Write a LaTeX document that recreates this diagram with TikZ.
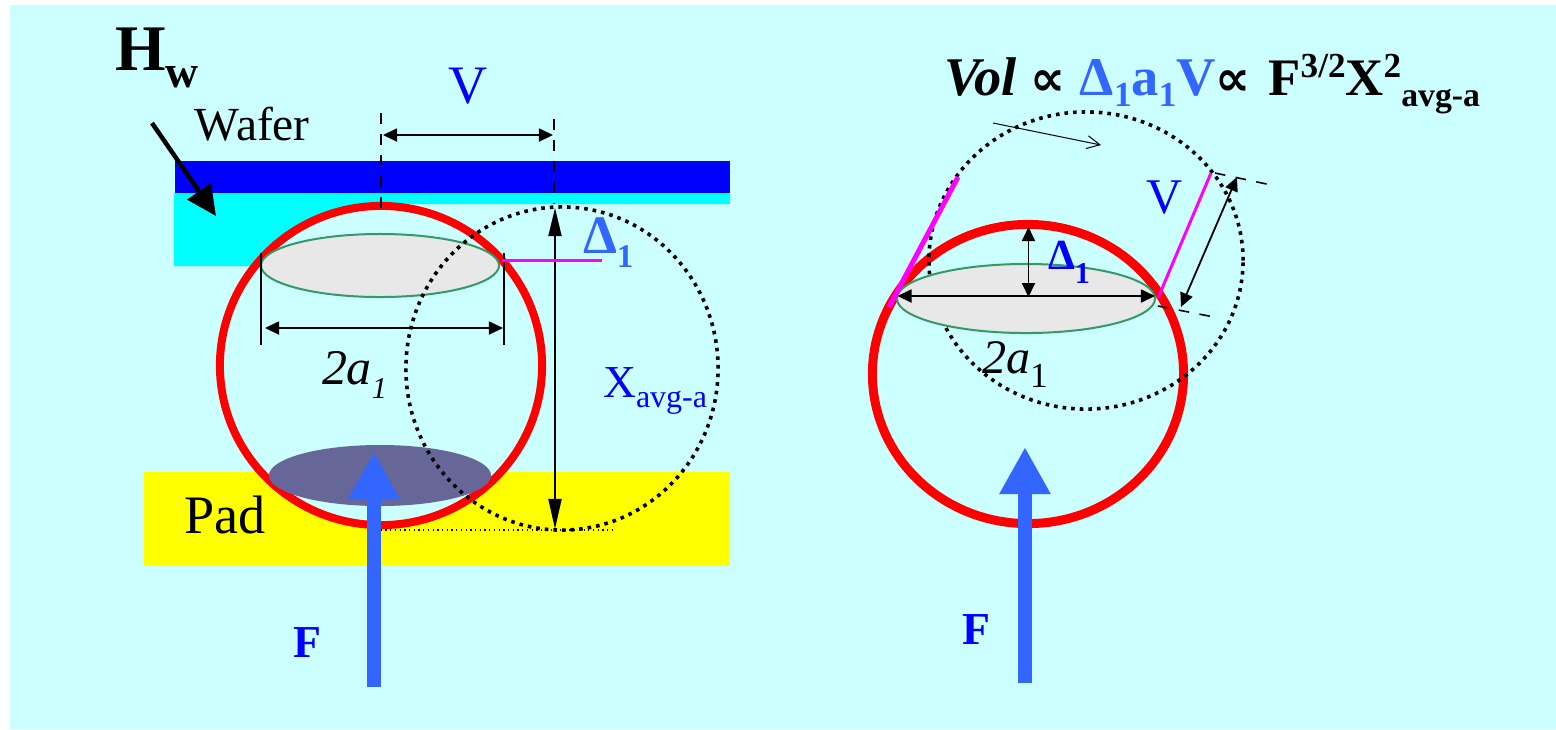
\documentclass[tikz,border=0pt]{standalone}
\usepackage{fontspec}
\setmainfont{Liberation Serif}
\newfontfamily\symfont{DejaVu Sans}
\usetikzlibrary{arrows.meta}
\definecolor{skybg}{HTML}{CCFFFF}
\definecolor{waferglow}{HTML}{00FFFF}
\definecolor{padyellow}{HTML}{FFFF00}
\definecolor{markpink}{HTML}{FF00FF}
\definecolor{forceblue}{HTML}{3366FF}
\definecolor{contactgreen}{HTML}{339966}
\definecolor{padgray}{HTML}{666699}
\newcommand{\sz}[1]{\fontsize{#1}{#1}\selectfont}
\newcommand{\lowtxt}[3]{\raisebox{-#1pt}{\sz{#2}#3}}
\tikzset{
    txt/.style={anchor=base west, inner sep=0pt, outer sep=0pt},
    ballline/.style={red, line width=0.08cm},
    pathline/.style={black, line width=0.036cm, dash pattern=on 0.036cm off 0.05cm},
    contact/.style={draw=contactgreen, fill=black!9, line width=0.02cm},
    dimline/.style={black, line width=0.018cm, {Triangle[length=0.14cm,width=0.13cm]}-{Triangle[length=0.14cm,width=0.13cm]}},
    guide/.style={black, line width=0.016cm, dashed},
    force/.style={forceblue, line width=0.13cm, -{Triangle[length=0.47cm,width=0.48cm]}},
    markline/.style={markpink, line width=0.03cm}
}
\begin{document}
\begin{tikzpicture}[x=0.01cm, y=-0.01cm]
    \useasboundingbox (0,0) rectangle (1556,729);

    % Background
    \fill[skybg] (10,5) rectangle (1556,729);

    % Wafer and pad
    \fill[waferglow] (174,193) -- (730,193) -- (730,204) -- (400,204) -- (400,266) -- (174,266) -- cycle;
    \fill[blue] (175,161) rectangle (730,193);
    \fill[padyellow] (144,472) rectangle (730,566);

    % Left picture
    \draw[ballline, fill=skybg] (381,365.5) ellipse [x radius=1.61cm, y radius=1.595cm];
    \fill[padgray] (380,475.5) ellipse [x radius=1.11cm, y radius=0.305cm];
    \draw[contact] (380,265.5) ellipse [x radius=1.19cm, y radius=0.315cm];
    \draw[pathline] (562,368.5) ellipse [x radius=1.56cm, y radius=1.615cm];

    \coordinate (vlineA) at (381,113);
    \coordinate (vlineB) at (381,216);
    \coordinate (vlineC) at (554,119);
    \coordinate (vlineD) at (554,204);
    \draw[guide] (vlineA) -- (vlineB);
    \draw[guide] (vlineC) -- (vlineD);

    \coordinate (vleft) at (383,135);
    \coordinate (vright) at (553,135);
    \draw[dimline] (vleft) -- (vright);

    \coordinate (xtop) at (555,208);
    \coordinate (xbottom) at (555,529);
    \draw[dimline, {Triangle[length=0.28cm,width=0.13cm]}-{Triangle[length=0.3cm,width=0.13cm]}] (xtop) -- (xbottom);

    \coordinate (baseA) at (376,530);
    \coordinate (baseB) at (615,530);
    \draw[black, line width=0.012cm, densely dotted] (baseA) -- (baseB);

    \coordinate (tickA) at (261,253);
    \coordinate (tickB) at (261,345);
    \coordinate (tickC) at (504,253);
    \coordinate (tickD) at (504,345);
    \draw[black, line width=0.018cm] (tickA) -- (tickB) (tickC) -- (tickD);

    \coordinate (widthA) at (265,328);
    \coordinate (widthB) at (503,328);
    \draw[dimline] (widthA) -- (widthB);

    \coordinate (deltaA) at (502,260);
    \coordinate (deltaB) at (602,260);
    \draw[markline] (deltaA) -- (deltaB);

    \coordinate (hwA) at (152,123);
    \coordinate (hwB) at (216,216);
    \draw[black, line width=0.045cm, -{Triangle[length=0.3cm,width=0.28cm]}] (hwA) -- (hwB);

    \coordinate (forceA) at (374,687);
    \coordinate (forceB) at (374,452);
    \draw[force] (forceA) -- (forceB);

    % Left labels
    \node[txt] (hw) at (115,70) {\sz{18.5}\textbf{H\lowtxt{5}{13}{w}}};
    \node[txt] (wafer) at (195,140) {\sz{13.5}Wafer};
    \node[txt, text=blue] (vlabel) at (448,103) {\sz{15.4}V};
    \node[txt, text=forceblue] (deltalabel) at (583,253) {\sz{15.4}\textbf{Δ\lowtxt{4}{9.4}{1}}};
    \node[txt] (widthlabel) at (322,384) {\sz{14.2}\textit{2a\lowtxt{4}{8.6}{1}}};
    \node[txt, text=blue] (xlabel) at (603,397) {\sz{13}X\lowtxt{3}{9.1}{avg-a}};
    \node[txt] (padlabel) at (184,533) {\sz{15.4}Pad};
    \node[txt, text=blue] (flabel) at (293,657) {\sz{13}\textbf{F}};

    % Right picture
    \draw[red, line width=0.09cm] (1028,374) ellipse [x radius=1.555cm, y radius=1.495cm];
    \draw[pathline] (1086,260.5) ellipse [x radius=1.57cm, y radius=1.485cm];
    \draw[contact] (1026,298.5) ellipse [x radius=1.29cm, y radius=0.345cm];

    \coordinate (edgeA) at (958,177);
    \coordinate (edgeB) at (889,307);
    \coordinate (edgeC) at (1211,173);
    \coordinate (edgeD) at (1158,298);
    \draw[markpink, line width=0.05cm] (edgeA) -- (edgeB);
    \draw[markline] (edgeC) -- (edgeD);

    \coordinate (dashA) at (1215,173);
    \coordinate (dashB) at (1276,186);
    \coordinate (dashC) at (1158,306);
    \coordinate (dashD) at (1219,318);
    \draw[guide] (dashA) -- (dashB);
    \draw[guide] (dashC) -- (dashD);

    \coordinate (slideA) at (1237,177);
    \coordinate (slideB) at (1181,307);
    \draw[dimline] (slideA) -- (slideB);

    \coordinate (depthA) at (1028.5,227);
    \coordinate (depthB) at (1028.5,297);
    \draw[dimline] (depthA) -- (depthB);

    \coordinate (chordA) at (897.5,296);
    \coordinate (chordB) at (1155,296);
    \draw[dimline] (chordA) -- (chordB);

    \coordinate (moveA) at (993,123);
    \coordinate (moveB) at (1101,145);
    \draw[black, line width=0.01cm, -{Straight Barb[length=0.13cm,width=0.13cm]}] (moveA) -- (moveB);

    \coordinate (forceC) at (1025,683);
    \coordinate (forceD) at (1025,447);
    \draw[force] (forceC) -- (forceD);

    % Right labels
    \node[txt, text=blue] (vlabelb) at (1146,213) {\sz{14.2}V};
    \node[txt, text=blue] (deltalabelb) at (1048,269) {\sz{12.2}\textbf{Δ\lowtxt{4}{8.6}{1}}};
    \node[txt] (widthlabelb) at (982,373) {\sz{13.7}\textit{2a}\lowtxt{4}{10}{1}};
    \node[txt, text=blue] (flabelb) at (962,644) {\sz{13}\textbf{F}};

    % Formula
    \node[txt] (formula) at (944,95) {\sz{15.5}\textbf{\textit{Vol}\kern 4pt{\symfont\sz{14}∝}\kern 4pt%
        \textcolor{forceblue}{Δ\lowtxt{3.4}{10}{1}a\lowtxt{3.4}{10}{1}V}{\symfont\sz{14}∝}\kern 5pt%
        {\sz{15}F\raisebox{5pt}{\sz{10}3/2}X\raisebox{5pt}{\sz{10}2}\lowtxt{3.4}{9.6}{avg-a}}}};
\end{tikzpicture}
\end{document}
